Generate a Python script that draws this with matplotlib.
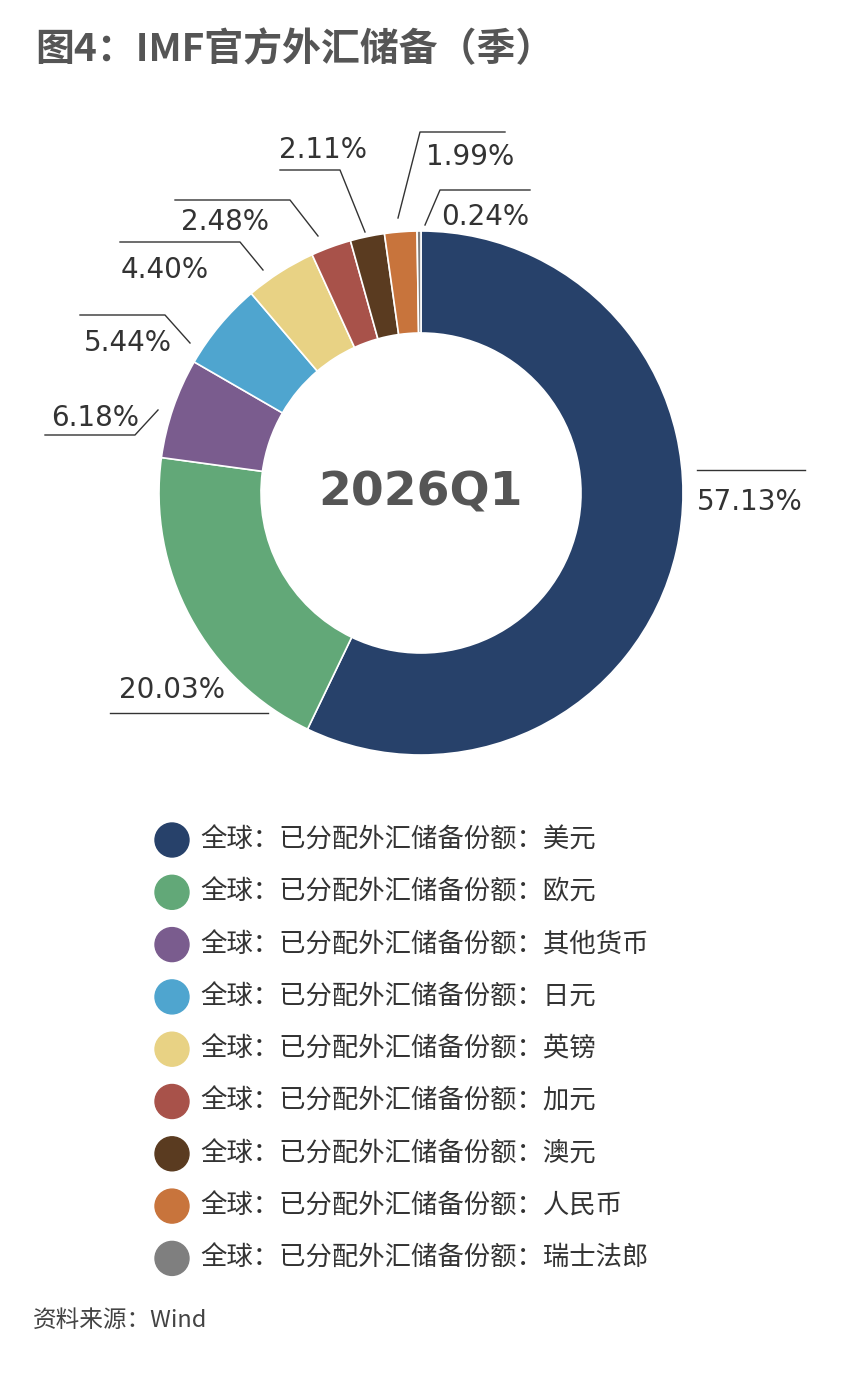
import matplotlib.pyplot as plt

plt.rcParams['font.family'] = ['Noto Sans CJK SC', 'DejaVu Sans']

currencies = ["美元", "欧元", "其他货币", "日元", "英镑", "加元", "澳元", "人民币", "瑞士法郎"]
shares = [57.13, 20.03, 6.18, 5.44, 4.40, 2.48, 2.11, 1.99, 0.24]
colors = ["#27416a", "#62a878", "#7a5c8e", "#4fa5cf", "#e8d284",
          "#a8524a", "#5a3b20", "#c8743c", "#7f7f7f"]
period = "2026Q1"

W, H = 844, 1390
fig = plt.figure(figsize=(W / 100, H / 100), dpi=100)
ax = fig.add_axes([0, 0, 1, 1])
ax.set_xlim(0, W)
ax.set_ylim(0, H)
ax.set_aspect("equal")
ax.axis("off")

def Y(y):
    return H - y

# donut
ax.pie(shares, colors=colors, startangle=90, counterclock=False,
       center=(421, Y(493)), radius=262,
       wedgeprops=dict(width=102, edgecolor="white", linewidth=1.2))
ax.set_xlim(0, W)
ax.set_ylim(0, H)
ax.text(421, Y(493), period, ha="center", va="center", fontsize=34,
        fontweight="bold", color="#555555", family="DejaVu Sans")

# leader lines: (polyline pixel points, text x, text y, ha)
label_layout = [
    ([(697, 470), (805, 470)], 750, 502, "center"),
    ([(268, 713), (110, 713)], 172, 690, "center"),
    ([(158, 410), (135, 435), (45, 435)], 95, 418, "center"),
    ([(190, 343), (165, 315), (80, 315)], 128, 343, "center"),
    ([(263, 270), (240, 242), (120, 242)], 165, 270, "center"),
    ([(318, 236), (290, 200), (175, 200)], 225, 222, "center"),
    ([(365, 232), (340, 170), (280, 170)], 323, 150, "center"),
    ([(398, 218), (420, 132), (505, 132)], 470, 157, "center"),
    ([(425, 225), (440, 190), (530, 190)], 485, 217, "center"),
]
for v, (pts, tx, ty, ha) in zip(shares, label_layout):
    ax.plot([p[0] for p in pts], [Y(p[1]) for p in pts], color="#333333", lw=1)
    ax.text(tx, Y(ty), f"{v:.2f}%", ha=ha, va="center", fontsize=20,
            color="#333333", family="DejaVu Sans")

# title
ax.text(35, Y(50), "图4：IMF官方外汇储备（季）", ha="left", va="center",
        fontsize=28, fontweight="bold", color="#555555")

# legend
for i, (name, c) in enumerate(zip(currencies, colors)):
    y = 840 + i * 52.3
    ax.add_patch(plt.Circle((172, Y(y)), 17, color=c))
    ax.text(200, Y(y), "全球：已分配外汇储备份额：" + name, ha="left", va="center",
            fontsize=19, color="#333333")

ax.text(33, Y(1320), "资料来源：Wind", ha="left", va="center", fontsize=17,
        style="italic", color="#444444")

fig.savefig("out.png", dpi=100, facecolor="white")
